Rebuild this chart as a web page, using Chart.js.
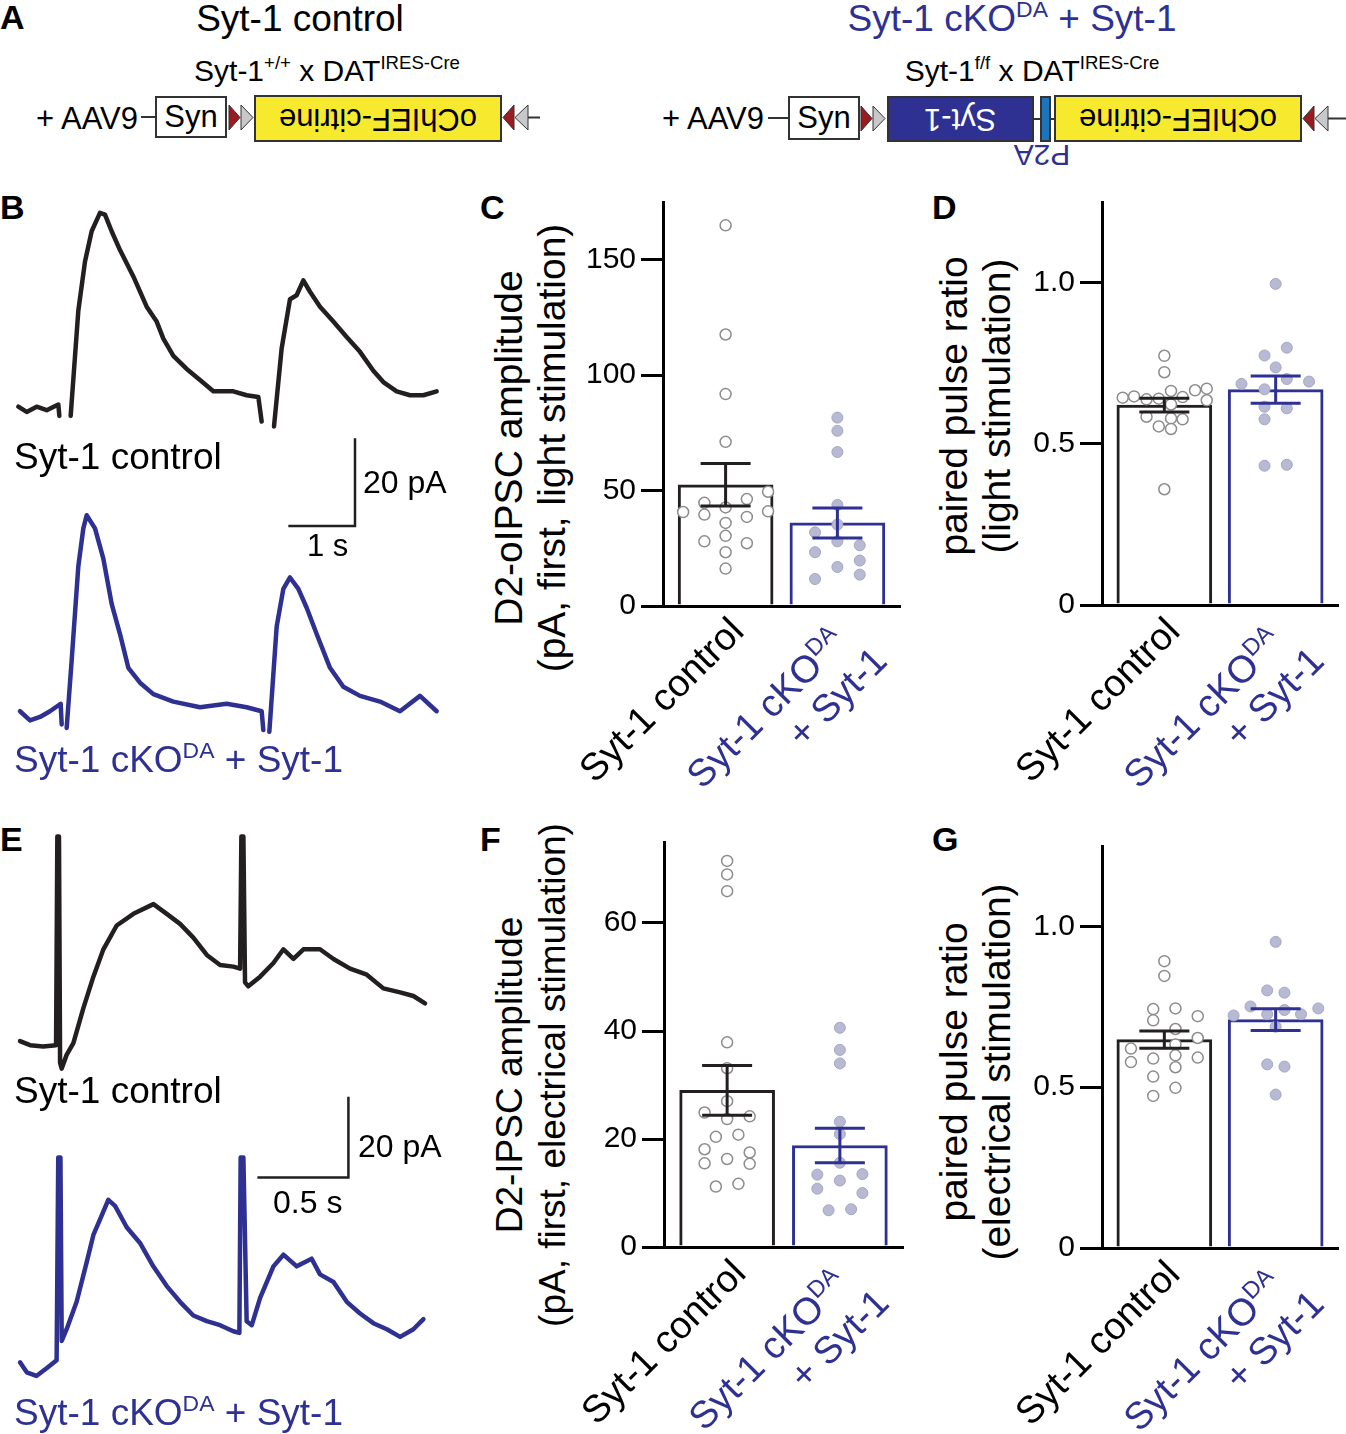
<!DOCTYPE html>
<html>
<head>
<meta charset="utf-8">
<script src="https://cdn.jsdelivr.net/npm/chart.js"></script>
<style>
body { margin:0; width:1346px; height:1434px; position:relative; background:#fff; overflow:hidden;
       font-family:'Liberation Sans', Arial, Helvetica, sans-serif; color:#000; }
.abs { position:absolute; white-space:nowrap; line-height:1; }
canvas { position:absolute; }
.letter { position:absolute; font-weight:bold; font-size:34px; line-height:1; }
.blue { color:#2e3192; }
sup { font-size:0.62em; vertical-align:0.62em; line-height:0; }
.box { position:absolute; box-sizing:border-box; border:2px solid #333; display:flex; align-items:center; justify-content:center; font-size:31px; }
.flip { display:inline-block; transform:rotate(180deg); }
.wire { position:absolute; height:2px; background:#333; }
.ytitle { position:absolute; font-size:37px; line-height:43px; text-align:center; white-space:nowrap; transform:translate(-50%,-50%) rotate(-90deg); }
.xl { position:absolute; width:0; height:0; }
.xl div { position:absolute; right:0; top:0; transform-origin:100% 0; transform:rotate(-45deg); font-size:38px; line-height:1.1; text-align:right; white-space:nowrap; }
</style>
</head>
<body>

<!-- panel letters -->
<div class="letter" style="left:0;top:0">A</div>
<div class="letter" style="left:0;top:190px">B</div>
<div class="letter" style="left:480px;top:190px">C</div>
<div class="letter" style="left:932px;top:190px">D</div>
<div class="letter" style="left:0;top:822px">E</div>
<div class="letter" style="left:480px;top:822px">F</div>
<div class="letter" style="left:932px;top:822px">G</div>

<!-- A: constructs -->
<div class="abs" style="left:300px;top:0;font-size:37px;transform:translateX(-50%)">Syt-1 control</div>
<div class="abs blue" style="left:1012px;top:0;font-size:37px;transform:translateX(-50%)">Syt-1 cKO<sup>DA</sup> + Syt-1</div>
<div class="abs" style="left:327px;top:56px;font-size:30px;transform:translateX(-50%)">Syt-1<sup>+/+</sup> x DAT<sup>IRES-Cre</sup></div>
<div class="abs" style="left:1032px;top:56px;font-size:30px;transform:translateX(-50%)">Syt-1<sup>f/f</sup> x DAT<sup>IRES-Cre</sup></div>

<div class="abs" style="left:36px;top:103px;font-size:31px">+ AAV9</div>
<div class="wire" style="left:141px;top:116px;width:14px"></div>
<div class="box" style="left:155px;top:96px;width:72px;height:42px;background:#fff">Syn</div>
<svg style="position:absolute;left:228px;top:104px" width="27" height="27"><polygon points="1,1 12,13.5 1,26" fill="#9b1c20" stroke="#333" stroke-width="1"/><polygon points="13,1 25,13.5 13,26" fill="#c8c8c8" stroke="#333" stroke-width="1"/></svg>
<div class="box" style="left:254px;top:95px;width:248px;height:47px;background:#f7ea2e"><span class="flip">oChIEF-citrine</span></div>
<svg style="position:absolute;left:502px;top:104px" width="38" height="27"><polygon points="12,1 1,13.5 12,26" fill="#9b1c20" stroke="#333" stroke-width="1"/><polygon points="26,1 13,13.5 26,26" fill="#c8c8c8" stroke="#333" stroke-width="1"/><line x1="26" y1="13.5" x2="38" y2="13.5" stroke="#333" stroke-width="2"/></svg>

<div class="abs" style="left:662px;top:103px;font-size:31px">+ AAV9</div>
<div class="wire" style="left:768px;top:117px;width:20px"></div>
<div class="box" style="left:788px;top:96px;width:72px;height:44px;background:#fff">Syn</div>
<svg style="position:absolute;left:860px;top:105px" width="27" height="27"><polygon points="1,1 12,13.5 1,26" fill="#9b1c20" stroke="#333" stroke-width="1"/><polygon points="13,1 25,13.5 13,26" fill="#c8c8c8" stroke="#333" stroke-width="1"/></svg>
<div class="box" style="left:887px;top:96px;width:147px;height:46px;background:#2e3192;color:#fff"><span class="flip">Syt-1</span></div>
<div class="wire" style="left:1034px;top:118px;width:6px"></div>
<div class="box" style="left:1040px;top:96px;width:11px;height:46px;background:#1c75bc"></div>
<div class="wire" style="left:1051px;top:118px;width:4px"></div>
<div class="box" style="left:1054px;top:95px;width:248px;height:47px;background:#f7ea2e"><span class="flip">oChIEF-citrine</span></div>
<svg style="position:absolute;left:1302px;top:105px" width="44" height="27"><polygon points="12,1 1,13.5 12,26" fill="#9b1c20" stroke="#333" stroke-width="1"/><polygon points="26,1 13,13.5 26,26" fill="#c8c8c8" stroke="#333" stroke-width="1"/><line x1="26" y1="13.5" x2="44" y2="13.5" stroke="#333" stroke-width="2"/></svg>
<div class="abs blue" style="left:1042px;top:140px;font-size:30px;transform:translateX(-50%) rotate(180deg)">P2A</div>

<!-- B and E: traces -->
<canvas id="bCtrl" width="460" height="350" style="left:0;top:190px"></canvas>
<canvas id="bKo" width="460" height="240" style="left:0;top:500px"></canvas>
<canvas id="eCtrl" width="460" height="365" style="left:0;top:825px"></canvas>
<canvas id="eKo" width="460" height="240" style="left:0;top:1150px"></canvas>

<div class="abs" style="left:14px;top:438px;font-size:37px">Syt-1 control</div>
<div class="abs" style="left:363px;top:466px;font-size:32px">20 pA</div>
<div class="abs" style="left:307px;top:530px;font-size:31px">1 s</div>
<div class="abs blue" style="left:14px;top:741px;font-size:37px">Syt-1 cKO<sup>DA</sup> + Syt-1</div>

<div class="abs" style="left:14px;top:1072px;font-size:37px">Syt-1 control</div>
<div class="abs" style="left:358px;top:1130px;font-size:32px">20 pA</div>
<div class="abs" style="left:273px;top:1186px;font-size:32px">0.5 s</div>
<div class="abs blue" style="left:14px;top:1394px;font-size:37px">Syt-1 cKO<sup>DA</sup> + Syt-1</div>

<!-- C, D, F, G: bar charts -->
<canvas id="cChart" width="328" height="441" style="left:579px;top:195px"></canvas>
<canvas id="dChart" width="327" height="440" style="left:1018px;top:195px"></canvas>
<canvas id="fChart" width="330" height="442" style="left:580px;top:835px"></canvas>
<canvas id="gChart" width="327" height="439" style="left:1018px;top:839px"></canvas>

<div class="ytitle" style="left:530px;top:448px;font-size:39px">D2-oIPSC amplitude<br>(pA, first, light stimulation)</div>
<div class="ytitle" style="left:975px;top:406px;font-size:39px">paired pulse ratio<br>(light stimulation)</div>
<div class="ytitle" style="left:531px;top:1075px">D2-IPSC amplitude<br>(pA, first, electrical stimulation)</div>
<div class="ytitle" style="left:975px;top:1072px;font-size:39px">paired pulse ratio<br>(electrical stimulation)</div>

<div class="xl" style="left:722px;top:610px"><div>Syt-1 control</div></div>
<div class="xl blue" style="left:836px;top:610px"><div><span style="padding-right:16px">Syt-1 cKO<sup>DA</sup></span><br>+ Syt-1</div></div>
<div class="xl" style="left:1158px;top:610px"><div>Syt-1 control</div></div>
<div class="xl blue" style="left:1273px;top:610px"><div><span style="padding-right:16px">Syt-1 cKO<sup>DA</sup></span><br>+ Syt-1</div></div>
<div class="xl" style="left:724px;top:1252px"><div>Syt-1 control</div></div>
<div class="xl blue" style="left:838px;top:1252px"><div><span style="padding-right:16px">Syt-1 cKO<sup>DA</sup></span><br>+ Syt-1</div></div>
<div class="xl" style="left:1158px;top:1253px"><div>Syt-1 control</div></div>
<div class="xl blue" style="left:1273px;top:1253px"><div><span style="padding-right:16px">Syt-1 cKO<sup>DA</sup></span><br>+ Syt-1</div></div>

<script>
// Data

// B: light-evoked traces (time in s, current in pA, null = blanked stimulus)
const bCtrlT = [0.275, 0.40, 0.55, 0.70, 0.875, 0.89, 0.97, 1.06, 1.175, 1.275, 1.375, 1.5, 1.575, 1.675, 1.8, 2.0, 2.2, 2.35, 2.45, 2.6, 2.8, 3.0, 3.2, 3.5, 3.7, 3.875, 3.925, 4.0, 4.11, 4.225, 4.35, 4.45, 4.55, 4.65, 4.8, 5.0, 5.2, 5.4, 5.6, 5.75, 5.95, 6.15, 6.35, 6.55];
const bCtrlI = [0.3, -0.9, 0.3, -0.5, 0.8, -1.8, null, -1.8, 22.2, 33.4, 40.3, 44.5, 44.1, 40.3, 36.0, 30.0, 23.1, 19.7, 15.8, 11.9, 8.9, 6.4, 3.8, 3.8, 2.9, 2.5, -3.1, null, -4.2, 13.6, 24.8, 25.7, 29.1, 26.5, 23.1, 19.7, 16.2, 12.8, 8.5, 5.9, 3.8, 2.9, 2.9, 3.8];
const bKoT = [0.30, 0.45, 0.6, 0.75, 0.91, 0.925, 0.96, 1.0, 1.075, 1.175, 1.25, 1.30, 1.425, 1.55, 1.675, 1.8, 1.925, 2.1, 2.3, 2.6, 3.0, 3.4, 3.7, 3.925, 3.95, 4.0, 4.04, 4.15, 4.25, 4.35, 4.475, 4.6, 4.75, 4.95, 5.15, 5.4, 5.7, 6.0, 6.3, 6.55];
const bKoI = [0.4, -1.7, -0.9, 0.4, 2.1, -2.6, null, -3.4, 12.0, 33.5, 42.1, 45.1, 42.1, 35.2, 24.9, 18.0, 10.3, 6.9, 4.3, 2.6, 1.3, 2.1, 1.3, 0.4, -3.9, null, -4.3, 19.7, 28.3, 30.9, 28.3, 24.0, 18.0, 10.3, 6.0, 3.9, 2.6, 0.4, 3.9, 0.4];
const bScaleT = [4.325, 5.325, 5.325];   // 1 s
const bScaleI = [-26.9, -26.9, -6.9];    // 20 pA

// E: electrically evoked traces
const eCtrlT = [0.11, 0.165, 0.238, 0.308, 0.315, 0.324, 0.33, 0.339, 0.366, 0.403, 0.458, 0.513, 0.568, 0.641, 0.733, 0.843, 0.916, 0.989, 1.062, 1.136, 1.209, 1.282, 1.319, 1.326, 1.337, 1.346, 1.364, 1.429, 1.502, 1.557, 1.612, 1.667, 1.758, 1.832, 1.923, 2.015, 2.106, 2.198, 2.271, 2.335];
const eCtrlI = [0.5, -0.5, -0.8, -0.5, 51.3, 51.3, -4.9, -6.3, -2.9, 0, 8.7, 16.5, 23.3, 29.2, 32.1, 34.5, 32.1, 29.6, 26.2, 21.9, 19.4, 19.0, 18.5, 51.3, 51.3, 15.1, 14.1, 16.5, 19.9, 23.3, 20.9, 23.3, 23.3, 20.9, 18.5, 17.0, 13.6, 12.6, 11.7, 9.9];
const eKoT = [0.11, 0.147, 0.2, 0.256, 0.311, 0.32, 0.332, 0.339, 0.366, 0.421, 0.476, 0.513, 0.549, 0.595, 0.632, 0.696, 0.769, 0.842, 0.916, 0.989, 1.062, 1.136, 1.209, 1.282, 1.315, 1.322, 1.337, 1.355, 1.383, 1.429, 1.502, 1.557, 1.63, 1.712, 1.758, 1.832, 1.905, 1.978, 2.051, 2.125, 2.198, 2.271, 2.326];
const eKoI = [1.0, -1.5, -2.4, -0.5, 1.5, 51.8, 51.8, 6.3, 9.2, 16.0, 25.8, 32.6, 36.4, 41.3, 39.8, 34.5, 30.6, 24.8, 19.9, 16.0, 12.6, 11.2, 10.2, 8.7, 8.3, 51.8, 51.8, 11.2, 10.2, 17.0, 24.8, 27.7, 24.8, 26.7, 22.8, 20.9, 16.0, 13.1, 10.7, 9.2, 7.3, 9.2, 11.7];
const eScaleT = [1.414, 1.914, 1.914];   // 0.5 s
const eScaleI = [-33.3, -33.3, -13.3];   // 20 pA

// groups: Syt-1 control, Syt-1 cKO(DA) + Syt-1
// C: D2-oIPSC amplitude (pA)
const cMean = [52.5, 36.0];
const cSem = [9.2, 6.5];
const cCtrl = [164.9, 117.6, 91.8, 71.1, 49.5, 44.7, 46.3, 42.7, 40.7, 41.0, 39.6, 38.6, 36.0, 30.4, 28.0, 27.2, 23.3, 16.2];
const cCtrlDx = [0, 0, 0, 0, 0.38, -0.19, 0.19, 0, -0.38, 0.38, -0.19, 0.19, 0, 0, -0.19, 0.19, 0, 0];
const cKo = [81.6, 75.9, 66.7, 43.8, 35.3, 31.9, 28.0, 26.3, 23.3, 19.7, 16.9, 13.6, 11.7];
const cKoDx = [0, 0, 0, 0, 0, -0.2, 0, 0.2, -0.2, 0.2, 0, 0.2, -0.2];

// D: paired pulse ratio, light
const dMean = [0.62, 0.668];
const dSem = [0.021, 0.042];
const dCtrl = [0.773, 0.722, 0.643, 0.647, 0.638, 0.640, 0.664, 0.645, 0.666, 0.671, 0.635, 0.622, 0.584, 0.579, 0.576, 0.554, 0.546, 0.359];
const dCtrlDx = [0, 0, -0.374, -0.272, -0.16, -0.05, 0.06, 0.164, 0.276, 0.381, 0.381, 0.06, -0.16, 0.06, 0.164, -0.05, 0.06, 0];
const dKo = [0.996, 0.798, 0.774, 0.737, 0.701, 0.686, 0.693, 0.669, 0.615, 0.610, 0.576, 0.432, 0.435];
const dKoDx = [0, 0.1, -0.1, 0, 0.1, -0.307, 0.3, -0.1, -0.1, 0.1, -0.1, -0.1, 0.1];

// F: D2-IPSC amplitude (pA), electrical
const fMean = [29.0, 18.8];
const fSem = [4.6, 3.2];
const fCtrl = [71.5, 69.0, 65.9, 37.9, 33.1, 27.0, 24.9, 24.2, 23.7, 20.4, 20.8, 18.1, 17.5, 16.3, 15.5, 15.4, 11.2, 11.7];
const fCtrlDx = [0, 0, 0, 0, 0, 0, -0.2, 0.2, 0, -0.1, 0.1, -0.2, 0.2, 0, -0.2, 0.2, -0.1, 0.1];
const fKo = [40.6, 36.5, 34.0, 23.2, 20.9, 15.6, 13.4, 13.5, 12.3, 10.8, 10.0, 6.8, 7.0];
const fKoDx = [0, 0, 0, 0, 0, 0, -0.2, 0.2, 0, -0.2, 0.2, -0.1, 0.1];

// G: paired pulse ratio, electrical
const gMean = [0.648, 0.71];
const gSem = [0.027, 0.034];
const gCtrl = [0.892, 0.846, 0.743, 0.745, 0.708, 0.721, 0.681, 0.653, 0.620, 0.633, 0.589, 0.599, 0.578, 0.592, 0.562, 0.533, 0.498, 0.473];
const gCtrlDx = [0, 0, -0.1, 0.1, -0.1, 0.3, 0.1, 0.3, -0.3, 0.1, -0.1, 0.1, -0.3, 0.3, 0.1, -0.1, 0.1, -0.1];
const gKo = [0.952, 0.801, 0.794, 0.751, 0.740, 0.745, 0.723, 0.727, 0.727, 0.688, 0.571, 0.564, 0.477];
const gKoDx = [0, -0.076, 0.079, -0.226, 0.079, 0.383, -0.378, -0.076, 0.228, 0, -0.076, 0.079, 0];

///////////////////////////////////////

const BLACK = '#231f20';
const BLUE = '#2e3192';

Chart.defaults.font.family = "'Liberation Sans', Arial, Helvetica, sans-serif";
Chart.defaults.color = '#000';
Chart.defaults.animation = false;
Chart.defaults.plugins.legend.display = false;
Chart.defaults.plugins.tooltip.enabled = false;

function toPoints(xs, ys) {
    return xs.map((x, k) => ({x: x, y: ys[k]}));
}

// recording trace, optionally with its calibration bar
function traceChart(id, t, amp, color, xMax, yMin, yMax, barT, barI) {
    let datasets = [{
        data: toPoints(t, amp),
        borderColor: color, borderWidth: 4.5, pointRadius: 0,
        borderJoinStyle: 'round', borderCapStyle: 'round'
    }];
    if (barT) {
        datasets.push({ data: toPoints(barT, barI), borderColor: BLACK, borderWidth: 2.5, pointRadius: 0 });
    }
    new Chart(document.getElementById(id), {
        type: 'line',
        data: { datasets: datasets },
        options: {
            responsive: false, events: [],
            layout: { padding: 0 },
            scales: {
                x: { type: 'linear', display: false, min: 0, max: xMax },
                y: { display: false, min: yMin, max: yMax }
            }
        }
    });
}

// SEM error bars drawn on top of the points
function errorBars(mean, sem) {
    return {
        id: 'errorBars',
        afterDatasetsDraw(chart) {
            const ctx = chart.ctx, xs = chart.scales.x, ys = chart.scales.y;
            const colors = [BLACK, BLUE];
            mean.forEach((m, i) => {
                const x = xs.getPixelForValue(i);
                const hi = ys.getPixelForValue(m + sem[i]);
                const lo = ys.getPixelForValue(m - sem[i]);
                ctx.save();
                ctx.strokeStyle = colors[i];
                ctx.lineWidth = 3;
                ctx.beginPath();
                ctx.moveTo(x, lo); ctx.lineTo(x, hi);
                ctx.moveTo(x - 25, hi); ctx.lineTo(x + 25, hi);
                ctx.moveTo(x - 25, lo); ctx.lineTo(x + 25, lo);
                ctx.stroke();
                ctx.restore();
            });
        }
    };
}

function barChart(id, mean, sem, ctrl, ctrlDx, ko, koDx, yMax, step, fmt) {
    new Chart(document.getElementById(id), {
        type: 'bar',
        data: {
            datasets: [
                { type: 'line', showLine: false, order: 1, clip: false,
                  data: ctrl.map((v, k) => ({x: 0 + ctrlDx[k], y: v})),
                  pointRadius: 5.5, pointBackgroundColor: '#fff', pointBorderColor: '#8c8c8c', pointBorderWidth: 1.5 },
                { type: 'line', showLine: false, order: 1, clip: false,
                  data: ko.map((v, k) => ({x: 1 + koDx[k], y: v})),
                  pointRadius: 5.5, pointBackgroundColor: '#b8b9d2', pointBorderColor: '#a4a6c6', pointBorderWidth: 1 },
                { type: 'bar', order: 2,
                  data: mean.map((m, i) => ({x: i, y: m})),
                  backgroundColor: '#fff', borderColor: [BLACK, BLUE], borderWidth: 3,
                  barThickness: 95 }
            ]
        },
        options: {
            responsive: false, events: [],
            layout: { padding: 0 },
            scales: {
                x: {
                    type: 'linear', min: -0.56, max: 1.56, offset: false,
                    grid: { display: false, drawTicks: false, offset: false },
                    ticks: { display: false },
                    border: { color: '#000', width: 3 },
                    afterFit: s => { s.height = 30; s.paddingLeft = 0; s.paddingRight = 0; }
                },
                y: {
                    min: 0, max: yMax,
                    ticks: { stepSize: step, includeBounds: false, padding: 5, color: '#000', font: { size: 30 }, callback: fmt },
                    grid: { drawOnChartArea: false, drawTicks: true, tickLength: 22, lineWidth: 3, color: '#000' },
                    border: { color: '#000', width: 3 },
                    afterFit: s => { s.width = 84; s.paddingTop = 0; s.paddingBottom = 0; }
                }
            }
        },
        plugins: [errorBars(mean, sem)]
    });
}

const plain = v => String(v);
const ratio = v => v === 0 ? '0' : v.toFixed(1);

traceChart('bCtrl', bCtrlT, bCtrlI, BLACK, 6.9, -30.1, 49.7, bScaleT, bScaleI);
traceChart('bKo', bKoT, bKoI, BLUE, 6.9, -6.16, 48.57);
traceChart('eCtrl', eCtrlT, eCtrlI, BLACK, 2.527, -36.43, 54.14, eScaleT, eScaleI);
traceChart('eKo', eKoT, eKoI, BLUE, 2.527, -5.88, 53.67);

barChart('cChart', cMean, cSem, cCtrl, cCtrlDx, cKo, cKoDx, 175, 50, plain);
barChart('dChart', dMean, dSem, dCtrl, dCtrlDx, dKo, dKoDx, 1.25, 0.5, ratio);
barChart('fChart', fMean, fSem, fCtrl, fCtrlDx, fKo, fKoDx, 75, 20, plain);
barChart('gChart', gMean, gSem, gCtrl, gCtrlDx, gKo, gKoDx, 1.25, 0.5, ratio);
</script>
</body>
</html>
